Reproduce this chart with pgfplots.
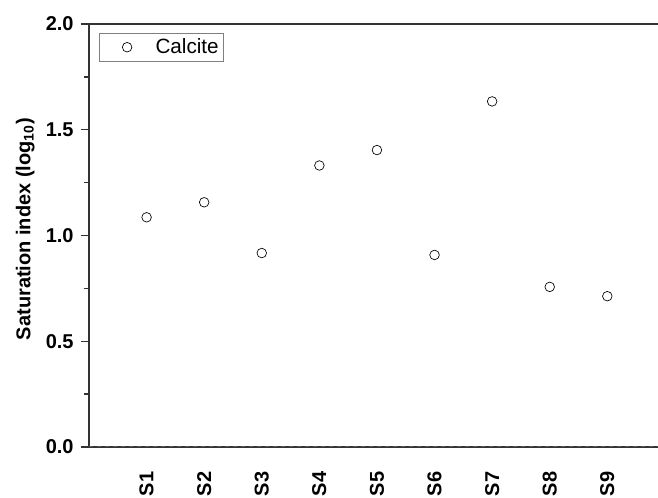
\documentclass[border=0pt]{standalone}
\usepackage{fontspec}
\setmainfont{Liberation Sans}
\usepackage{pgfplots}
\pgfplotsset{compat=1.18}

\definecolor{axgray}{HTML}{333333}

\begin{document}
\begin{tikzpicture}
\begin{axis}[
    at={(0,0)}, anchor=south west,
    scale only axis,
    width=426.75pt, height=317.25pt,
    xmin=0, xmax=9.88,
    ymin=0, ymax=2,
    axis x line=box, axis y line=left,
    axis line style={axgray, line width=1.3pt, -},
    xtick={1,...,9},
    xticklabels={S1,S2,S3,S4,S5,S6,S7,S8,S9},
    major x tick style={draw=none},
    xticklabel shift=9pt,
    x tick label style={rotate=90, anchor=east, font=\bfseries\fontsize{15}{17}\selectfont},
    ytick={0,0.5,1,1.5,2},
    minor ytick={0.25,0.75,1.25,1.75},
    tick align=outside,
    major tick length=6pt,
    minor tick length=4pt,
    y tick style={axgray, line width=1.1pt},
    y tick label style={font=\bfseries\fontsize{15}{17}\selectfont, xshift=-2pt},
    yticklabel style={/pgf/number format/.cd, fixed, fixed zerofill, precision=1},
    /pgf/number format/assume math mode=true,
    ylabel={Saturation index (log\textsubscript{10})},
    y label style={at={(axis description cs:-0.112,0.515)}, anchor=center, rotate=0,
        font=\bfseries\fontsize{15}{17}\selectfont},
    legend style={at={(0,1)}, anchor=north west, xshift=7.5pt, yshift=-6.75pt,
        draw=gray, line width=0.6pt, inner xsep=1.5pt, inner ysep=2pt,
        font=\fontsize{15.5}{17.5}\selectfont},
    legend image code/.code={
        \path (-19pt,0pt) (19pt,0pt);
        \draw[#1] plot coordinates {(0pt,0pt)};
    },
    legend cell align=left,
    clip=false,
]
\addplot[gray!70!black, dashed, line width=0.6pt, forget plot] coordinates {(0,0.004) (9.88,0.004)};
\addplot[only marks, mark=o, mark size=3.6pt, mark options={black, line width=0.5pt}]
    coordinates {
    (1,1.086) (2,1.157) (3,0.917) (4,1.331) (5,1.404)
    (6,0.908) (7,1.634) (8,0.757) (9,0.713)
    };
\addlegendentry{Calcite}
\end{axis}
\pgfresetboundingbox
\path[use as bounding box] (-66.75pt,-38.25pt) rectangle (426.75pt,335.25pt);
\end{tikzpicture}
\end{document}
